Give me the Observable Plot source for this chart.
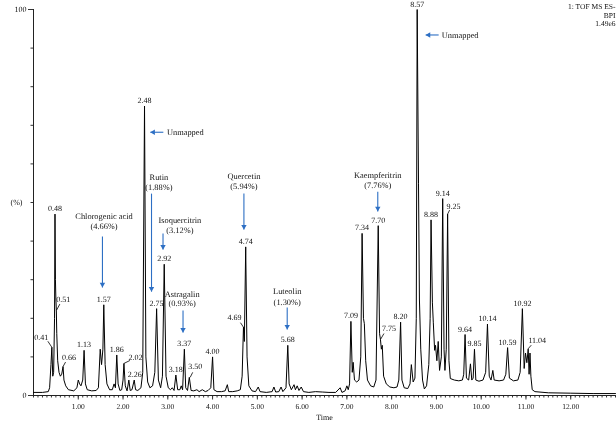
<!DOCTYPE html>
<html><head><meta charset="utf-8">
<script src="https://cdn.jsdelivr.net/npm/d3@7"></script>
<script src="https://cdn.jsdelivr.net/npm/@observablehq/plot@0.6"></script>
<style>
html,body{margin:0;padding:0;background:#fff;}
#chart svg{opacity:0.999;will-change:transform;}
#chart svg text{text-rendering:geometricPrecision;}
</style>
</head><body><div id="chart"></div>
<script>
// ---- chromatogram trace (time in min, relative intensity %) ----
const traceTime = [0.00,0.20,0.33,0.36,0.39,0.41,0.43,0.45,0.47,0.48,0.49,0.50,0.51,0.52,0.54,0.57,0.60,0.63,0.66,0.68,0.72,0.78,0.90,0.97,1.00,1.03,1.06,1.10,1.13,1.16,1.20,1.30,1.40,1.45,1.49,1.52,1.55,1.57,1.60,1.64,1.70,1.76,1.80,1.83,1.86,1.89,1.93,1.97,2.00,2.02,2.05,2.09,2.13,2.16,2.20,2.25,2.28,2.33,2.40,2.44,2.48,2.51,2.55,2.60,2.66,2.71,2.75,2.79,2.84,2.88,2.92,2.96,3.01,3.06,3.10,3.14,3.18,3.22,3.27,3.30,3.33,3.37,3.40,3.44,3.48,3.52,3.58,3.65,3.70,3.77,3.84,3.90,3.96,4.00,4.03,4.10,4.20,4.28,4.33,4.36,4.45,4.55,4.62,4.66,4.69,4.71,4.74,4.77,4.81,4.88,4.96,5.02,5.06,5.20,5.33,5.37,5.41,5.48,5.53,5.57,5.64,5.68,5.71,5.76,5.82,5.85,5.89,5.93,5.98,6.03,6.15,6.30,6.45,6.60,6.75,6.85,6.89,6.96,7.00,7.03,7.06,7.09,7.12,7.14,7.17,7.22,7.27,7.31,7.34,7.37,7.39,7.42,7.46,7.53,7.60,7.65,7.70,7.73,7.75,7.77,7.79,7.82,7.88,7.96,8.05,8.12,8.16,8.20,8.23,8.28,8.36,8.41,8.44,8.48,8.52,8.55,8.57,8.60,8.62,8.65,8.69,8.73,8.78,8.83,8.86,8.88,8.91,8.93,8.96,8.98,9.01,9.04,9.07,9.11,9.14,9.17,9.19,9.22,9.25,9.28,9.31,9.40,9.50,9.58,9.61,9.64,9.67,9.72,9.76,9.79,9.82,9.85,9.88,9.95,10.04,10.10,10.14,10.18,10.22,10.26,10.29,10.40,10.50,10.55,10.59,10.63,10.72,10.82,10.87,10.92,10.96,10.99,11.02,11.05,11.07,11.09,11.11,11.14,11.20,11.50,12.00,12.50,13.00];
const traceIntensity = [0.8,0.8,1.0,2.0,8,12.5,5,6,20,47,30,25,22,16,9,6,5,5.5,7.5,4,2.5,1.5,1.2,2,4,3,2.5,4,11.7,3,1.5,1.2,1.3,2,12,8,12,23.5,8,3,1.5,1.5,3,2,10.5,3,1.3,1.5,4,8.3,2.5,1.2,4,1.3,1.5,4,1.5,1.3,2,6,75,10,3.5,2,2.5,6,22.5,4,2,5,34,5,2,1.5,2,1.3,5.3,1.5,1.5,2.5,1.5,12,2,1.3,4.7,1.3,1.2,1.5,1,1.5,1,1.3,2,10,1.5,1,1,1.2,2.8,1,1,1.2,1.5,5,17.7,14,38.5,10,2.5,1.2,1,2.2,1,0.8,1,2.2,0.9,1,2.2,1,2,13,3,1.5,2.8,1.5,2.5,1.3,2.2,1,0.8,1,0.9,0.8,0.8,2,0.8,1.2,2.5,1.5,3,19.2,6,8.6,4,3.5,4,10,42,20,18.6,9,4,2.5,2.2,4,44,16,14.5,12,13,5,3,2.2,2,2.2,4,19,4,2,1.8,3,8,3.5,4.5,20,100,55,25,12,4,1.7,2.5,8,20,45.5,24,19,11.7,13,9,14,6.5,10,51,12,6.5,12,47,9,4.4,4,3.8,4,5.5,15.8,4.5,4,8.2,4,4.5,12,4,3.7,4,6,18.5,5,4,6.5,4,3.8,4,5.5,12.4,4.5,3.8,4,6,22.5,7,11,8.5,12,5.5,11,5,1.5,1,0.7,0.6,0.5,0.5];

// ---- peak retention-time labels ----
const peakLabels = ["0.41","0.48","0.51","0.66","1.13","1.57","1.86","2.02","2.26","2.48","2.75","2.92","3.18","3.37","3.50","4.00","4.69","4.74","5.68","7.09","7.34","7.70","7.75","8.20","8.57","8.88","9.14","9.25","9.64","9.85","10.14","10.59","10.92","11.04"];
const peakHeights = [12.5,47,22,7.5,11.7,23.5,10.5,8.3,4,75,22.5,34,5.3,12,4.7,10,17.7,38.5,13,19.2,42,44,14.5,19,100,45.5,51,47,15.8,12,18.5,12.4,22.5,12];

// ---- identified compounds ----
const compoundNames = ["Chlorogenic acid","Rutin","Isoquercitrin","Astragalin","Quercetin","Luteolin","Kaempferitrin"];
const compoundShares = ["(4.66%)","(1.88%)","(3.12%)","(0.93%)","(5.94%)","(1.30%)","(7.76%)"];
const unmappedLabels = ["Unmapped","Unmapped"];

// ---- axis tick values / texts ----
const xMajorTicks = [1,2,3,4,5,6,7,8,9,10,11,12];
const yLabelTicks = [0,100];
const headerLines = ["1: TOF MS ES-","BPI","1.49e6"];
const xTitle = "Time";
const yTitle = "(%)";

// ================= layout (positions / styles only) =================
const W = 616, H = 422;
const M = {left: 33, right: 1, top: 9, bottom: 27};
const X_MAX = 13;
const xk = (W - M.left - M.right) / X_MAX; // px per minute
const yk = (H - M.top - M.bottom) / 100;   // px per %
const BLUE = "#2d6fc4";
const FONT = "Liberation Serif, Times New Roman, serif";

// label offsets in px relative to the apex: [textDx, textDy, leaderDx, leaderDy]
const labelOffsets = {
  "0.41": [-10.5, -10, -4, -6],
  "0.51": [7, -11, 3.5, -6.5],
  "0.66": [6, -9, 2.5, -4.5],
  "2.02": [11.5, -6, 6, -3],
  "3.50": [5, -11, 2.5, -5],
  "4.69": [-9, -9.5, -3, -4.5],
  "7.75": [8.5, -11.5, 3.5, -6],
  "9.25": [6, -8, 2, -4],
  "11.04": [9.5, -9, 3.5, -4]
};
const DEFAULT_LABEL_DY = -5.5;
// compound annotation layout in data units: text x, name y, share y, arrow x, arrow y1, arrow y2
const compoundLayout = [
  [1.575, 46.4, 43.8, 1.54, 41.2, 28.0],
  [2.80, 56.6, 54.0, 2.636, 52.3, 26.9],
  [3.27, 45.5, 42.9, 2.893, 42.0, 37.8],
  [3.32, 26.3, 23.9, 3.34, 22.0, 16.3],
  [4.70, 56.7, 54.1, 4.70, 52.3, 43.0],
  [5.667, 26.9, 24.2, 5.667, 22.8, 17.1],
  [7.69, 57.0, 54.4, 7.69, 52.8, 47.7]
];
// unmapped layout: arrow x1, arrow x2 (head), y, text x
const unmappedLayout = [
  [2.90, 2.61, 68.2, 2.98],
  [9.05, 8.76, 93.4, 9.12]
];

const trace = traceTime.map((t, i) => ({t, v: traceIntensity[i]}));
const peaks = peakLabels.map((s, i) => {
  const o = labelOffsets[s] || [0, DEFAULT_LABEL_DY, null, null];
  const t = +s, v = peakHeights[i];
  return {label: s, t, v, tx: t + o[0] / xk, ty: v - o[1] / yk, lx: o[2], ly: o[3]};
});
const leaders = peaks.filter(p => p.lx !== null).map(p => ({
  x1: p.t, y1: p.v, x2: p.t + p.lx / xk, y2: p.v - p.ly / yk
}));
const comps = compoundNames.map((n, i) => {
  const L = compoundLayout[i];
  return {name: n, share: compoundShares[i], tx: L[0], ny: L[1], sy: L[2], ax: L[3], ay1: L[4], ay2: L[5]};
});
const unm = unmappedLabels.map((s, i) => {
  const L = unmappedLayout[i];
  return {label: s, x1: L[0], x2: L[1], y: L[2], tx: L[3]};
});
const minorX = d3.range(0, 131).map(i => i / 10);
const minorY = d3.range(0, 11).map(i => i * 10);

const chart = Plot.plot({
  width: W, height: H,
  marginLeft: M.left, marginRight: M.right, marginTop: M.top, marginBottom: M.bottom,
  style: {fontFamily: FONT, fontSize: "8px", background: "white", color: "#111"},
  x: {domain: [0, X_MAX]},
  y: {domain: [0, 100]},
  marks: [
    Plot.axisX(minorX, {tickSize: 2.5, tickFormat: () => "", label: null, stroke: "#333"}),
    Plot.axisX(xMajorTicks, {tickSize: 4.5, tickPadding: 4, tickFormat: d => d.toFixed(2), label: null, fontSize: 7.5, fill: "#111", stroke: "#333"}),
    Plot.axisY(minorY, {tickSize: 2.5, tickFormat: () => "", label: null, stroke: "#333"}),
    Plot.axisY(yLabelTicks, {tickSize: 5, tickPadding: 2, label: null, fontSize: 8, fill: "#111", stroke: "#333"}),
    Plot.ruleY([0], {stroke: "#222", strokeWidth: 1}),
    Plot.ruleX([0], {stroke: "#222", strokeWidth: 1}),
    Plot.line(trace, {x: "t", y: "v", stroke: "#000", strokeWidth: 1}),
    Plot.link(leaders, {x1: "x1", y1: "y1", x2: "x2", y2: "y2", stroke: "#000", strokeWidth: 0.8}),
    Plot.text(peaks, {x: "tx", y: "ty", text: "label", fontSize: 8, fill: "#111"}),
    // compound annotations
    Plot.text(comps, {x: "tx", y: "ny", text: "name", fontSize: 8.4, fill: "#111"}),
    Plot.text(comps, {x: "tx", y: "sy", text: "share", fontSize: 8.4, fill: "#111"}),
    Plot.link(comps, {x1: "ax", x2: "ax", y1: "ay1", y2: "ay2", stroke: BLUE, strokeWidth: 1.1}),
    Plot.dot(comps, {x: "ax", y: "ay2", symbol: "triangle", r: 2, rotate: 180, dy: -3, fill: BLUE, stroke: null}),
    // unmapped
    Plot.link(unm, {x1: "x1", x2: "x2", y1: "y", y2: "y", stroke: BLUE, strokeWidth: 1.1}),
    Plot.dot(unm, {x: "x2", y: "y", symbol: "triangle", r: 2, rotate: -90, dx: 3, fill: BLUE, stroke: null}),
    Plot.text(unm, {x: "tx", y: "y", text: "label", textAnchor: "start", fontSize: 8.4, fill: "#111"}),
    // header / titles
    Plot.text([headerLines.join("\n")], {frameAnchor: "top-right", textAnchor: "end", lineAnchor: "top", dy: -6, dx: 0, lineHeight: 1.1, fontSize: 7.5, fill: "#111"}),
    Plot.text([yTitle], {frameAnchor: "left", dx: -23, fontSize: 8, fill: "#111"}),
    Plot.text([xTitle], {frameAnchor: "bottom", dy: 24.5, fontSize: 8, fill: "#111"})
  ]
});
document.getElementById("chart").appendChild(chart);
</script>
</body></html>
